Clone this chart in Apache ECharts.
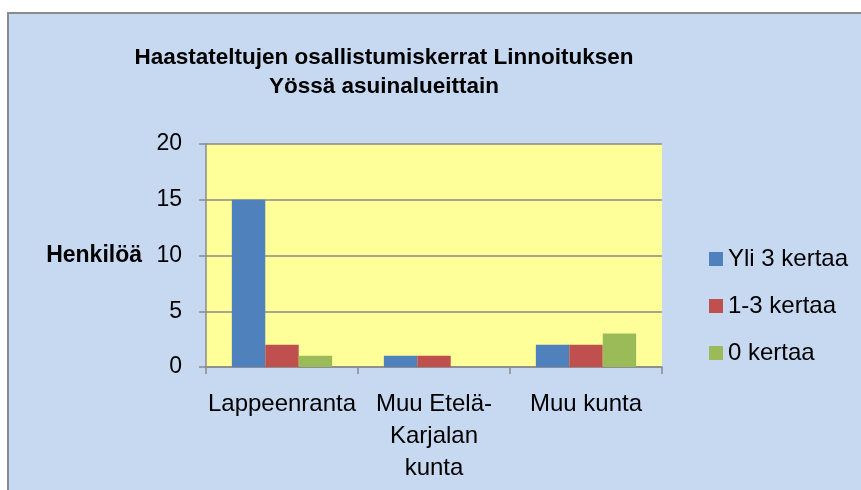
<!DOCTYPE html>
<html>
<head>
<meta charset="utf-8">
<script src="https://cdn.jsdelivr.net/npm/echarts@6/dist/echarts.min.js"></script>
<style>
  html, body { margin: 0; padding: 0; background: #ffffff; width: 861px; height: 490px; overflow: hidden; }
  #frame { position: absolute; left: 7px; top: 12px; width: 900px; height: 520px; background: #C6D9F1; border-left: 2px solid #8a8a8a; border-top: 2px solid #8a8a8a; }
  #chart { position: absolute; left: 0; top: 0; width: 861px; height: 490px; }
</style>
</head>
<body>
<div id="frame"></div>
<div id="chart"></div>
<script>
const titleText = 'Haastateltujen osallistumiskerrat Linnoituksen\nYössä asuinalueittain';
const yAxisName = 'Henkilöä';
const categories = ['Lappeenranta', 'Muu Etelä-\nKarjalan\nkunta', 'Muu kunta'];
const seriesNames = ['Yli 3 kertaa', '1-3 kertaa', '0 kertaa'];
const yli3 = [15, 1, 2];
const kerta13 = [2, 1, 2];
const kerta0 = [1, 0, 3];
const colors = ['#4F81BD', '#C0504D', '#9BBB59'];
const yTicks = { min: 0, max: 20, interval: 5 };

const FONT = '"Liberation Sans", Arial, sans-serif';
const chart = echarts.init(document.getElementById('chart'), null, { renderer: 'canvas' });
const values = [yli3, kerta13, kerta0];

chart.setOption({
  backgroundColor: 'transparent',
  animation: false,
  title: {
    text: titleText,
    left: 379,
    top: 38,
    textAlign: 'center',
    textStyle: { fontFamily: FONT, fontWeight: 'bold', fontSize: 22.5, lineHeight: 29, color: '#000' }
  },
  legend: {
    orient: 'vertical',
    left: 704,
    top: 242,
    itemWidth: 14,
    itemHeight: 14,
    itemGap: 23,
    icon: 'rect',
    data: seriesNames,
    textStyle: { fontFamily: FONT, fontSize: 24, lineHeight: 24, color: '#000' }
  },
  grid: {
    left: 206, top: 144, width: 456, height: 223,
    show: true, backgroundColor: '#FFFF99', borderWidth: 0
  },
  xAxis: {
    type: 'category',
    data: categories,
    axisLine: { lineStyle: { color: '#8a8a8a', width: 1.5 } },
    axisTick: { show: true, length: 7, inside: false, lineStyle: { color: '#8a8a8a', width: 1.5 } },
    axisLabel: { fontFamily: FONT, fontSize: 24, lineHeight: 32, color: '#000', margin: 21, interval: 0 }
  },
  yAxis: {
    type: 'value',
    min: yTicks.min, max: yTicks.max, interval: yTicks.interval,
    name: yAxisName,
    nameLocation: 'middle',
    nameRotate: 0,
    nameGap: 64,
    nameTextStyle: { fontFamily: FONT, fontWeight: 'bold', fontSize: 23, color: '#000', padding: [4, 0, 0, 0] },
    axisLine: { show: true, lineStyle: { color: '#8a8a8a', width: 1.5 } },
    axisTick: { show: true, length: 7, lineStyle: { color: '#8a8a8a', width: 1.5 } },
    axisLabel: { fontFamily: FONT, fontSize: 23, color: '#000', margin: 24, padding: [3, 0, 0, 0] },
    splitLine: { show: true, lineStyle: { color: '#8a8a8a', width: 1.5 } }
  },
  series: seriesNames.map((name, i) => ({
    name: name,
    type: 'bar',
    data: values[i],
    barGap: '0%',
    barCategoryGap: '34%',
    itemStyle: { color: colors[i] }
  }))
});
</script>
</body>
</html>
